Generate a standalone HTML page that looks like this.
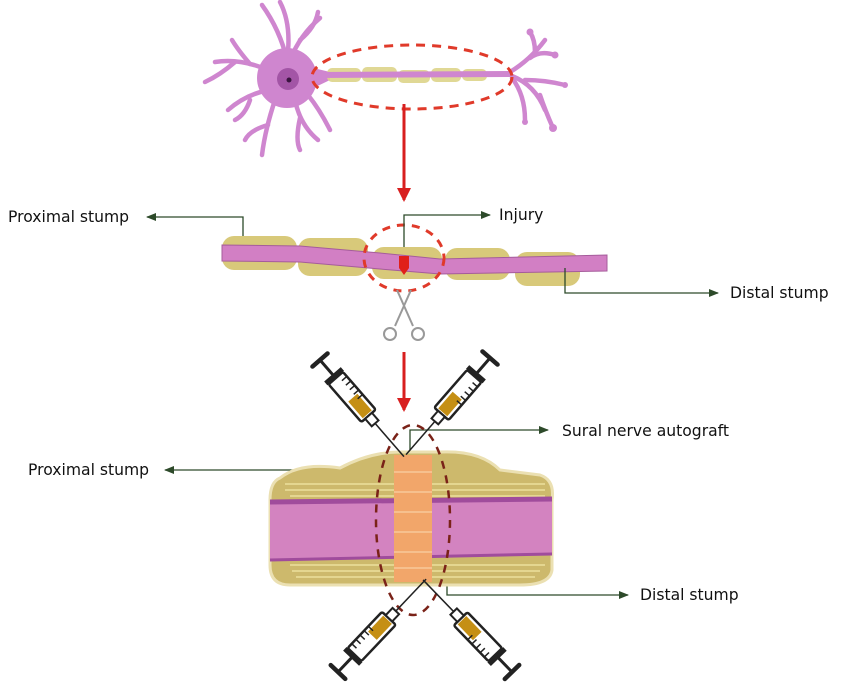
<!DOCTYPE html>
<html><head><meta charset="utf-8"><style>
html,body{margin:0;padding:0;background:#fff;}
svg{display:block;}
text{font-family:"DejaVu Sans","Liberation Sans",sans-serif;font-size:15.6px;fill:#111;}
</style></head><body>
<svg width="865" height="696" viewBox="0 0 865 696" xmlns="http://www.w3.org/2000/svg">
<defs>
<marker id="ga" markerWidth="10" markerHeight="8" refX="9" refY="4" orient="auto" markerUnits="userSpaceOnUse"><path d="M0,0 L10,4 L0,8 Z" fill="#2d4a2a"/></marker>
<marker id="ra" markerWidth="14" markerHeight="14" refX="12" refY="7" orient="auto" markerUnits="userSpaceOnUse"><path d="M0,0 L14,7 L0,14 Z" fill="#d81f1f"/></marker>
<g id="syr">
<line x1="0" y1="-10" x2="0" y2="10" stroke="#222" stroke-width="4.5" stroke-linecap="round"/>
<line x1="0" y1="0" x2="22" y2="0" stroke="#222" stroke-width="3"/>
<rect x="19" y="-11" width="5" height="22" fill="#222"/>
<rect x="24" y="-9.5" width="50" height="19" rx="2" fill="#fff" stroke="#222" stroke-width="2.5"/>
<rect x="50" y="-6" width="22" height="12" fill="#c58f14"/>
<path d="M30,-9 v6 M36,-9 v6 M42,-9 v6 M48,-9 v6 M54,-9 v6" stroke="#222" stroke-width="1.5"/>
<rect x="74" y="-4.5" width="10" height="9" fill="#fff" stroke="#222" stroke-width="2"/>
<line x1="84" y1="0" x2="128" y2="0" stroke="#222" stroke-width="1.5"/>
</g>
</defs>

<!-- Neuron -->
<g stroke="#cf86cf" fill="none" stroke-linecap="round" stroke-width="4.5">
<path d="M287,60 Q280,30 262,5"/><path d="M287,60 Q292,25 280,2"/>
<path d="M290,60 Q300,35 320,18"/><path d="M300,40 Q315,28 318,12"/>
<path d="M268,70 Q240,58 215,62"/><path d="M250,64 Q238,50 232,40"/><path d="M235,62 Q220,75 205,82"/>
<path d="M268,90 Q245,95 228,110"/><path d="M250,100 Q245,115 235,120"/>
<path d="M275,100 Q265,130 262,155"/><path d="M268,125 Q250,130 245,140"/>
<path d="M295,100 Q300,125 318,140"/><path d="M300,118 Q295,140 300,150"/>
<path d="M308,95 Q320,110 330,130"/>
<path d="M510,72 Q530,60 545,40"/><path d="M530,58 Q540,50 555,55"/><path d="M535,52 Q535,40 530,32"/>
<path d="M512,76 Q535,85 545,110"/><path d="M525,80 Q545,80 565,85"/><path d="M540,95 Q545,110 553,128"/><path d="M512,78 Q525,95 525,120"/>
</g>
<g fill="#cf86cf">
<circle cx="555" cy="55" r="3.5"/><circle cx="530" cy="32" r="3.5"/><circle cx="553" cy="128" r="4"/><circle cx="525" cy="122" r="3"/><circle cx="565" cy="85" r="3"/>
<circle cx="287" cy="78" r="30"/>
<path d="M305,66 L330,72 L330,80 L305,92 Z"/>
</g>
<g fill="#ddd48a" opacity="0.9">
<rect x="327" y="68" width="34" height="14" rx="5"/><rect x="362" y="67" width="35" height="15" rx="5"/>
<rect x="398" y="70" width="32" height="13" rx="5"/><rect x="431" y="68" width="30" height="14" rx="5"/><rect x="462" y="69" width="25" height="12" rx="5"/>
</g>
<path d="M318,75 L512,74" stroke="#cf86cf" stroke-width="6"/>
<circle cx="288" cy="79" r="11" fill="#a355a6"/><circle cx="289" cy="80" r="2.5" fill="#3a1540"/>
<ellipse cx="412" cy="77" rx="100" ry="32" fill="none" stroke="#e03a2a" stroke-width="3" stroke-dasharray="9,7"/>

<!-- red arrows -->
<line x1="404" y1="104" x2="404" y2="200" stroke="#d81f1f" stroke-width="3" marker-end="url(#ra)"/>
<line x1="404" y1="352" x2="404" y2="410" stroke="#d81f1f" stroke-width="3" marker-end="url(#ra)"/>

<!-- middle nerve -->
<g fill="#d8c97a">
<rect x="222" y="236" width="75" height="34" rx="12"/><rect x="298" y="238" width="70" height="38" rx="12"/>
<rect x="372" y="247" width="70" height="32" rx="12"/><rect x="445" y="248" width="65" height="32" rx="12"/><rect x="515" y="252" width="65" height="34" rx="12"/>
</g>
<path d="M222,245 L300,246 L380,253 L440,259 L607,255 L607,271 L440,274 L380,269 L300,262 L222,261 Z" fill="#d27fc4" stroke="#a55c9b" stroke-width="1"/>
<path d="M399,256 L409,256 L409,268 L404,275 L399,268 Z" fill="#e0201a"/>
<ellipse cx="404" cy="258" rx="40" ry="33" fill="none" stroke="#e03a2a" stroke-width="3" stroke-dasharray="8,7"/>
<!-- scissors -->
<g stroke="#999" stroke-width="2" fill="none">
<line x1="397" y1="290" x2="413" y2="326"/><line x1="411" y1="290" x2="395" y2="326"/>
<circle cx="390" cy="334" r="6"/><circle cx="418" cy="334" r="6"/>
</g>

<!-- labels -->
<g stroke="#2d4a2a" stroke-width="1.3" fill="none">
<polyline points="243,236 243,217 147,217" marker-end="url(#ga)"/>
<polyline points="404,247 404,215 490,215" marker-end="url(#ga)"/>
<polyline points="565,268 565,293 718,293" marker-end="url(#ga)"/>
<polyline points="298,485 298,470 165,470" marker-end="url(#ga)"/>
<polyline points="410,455 410,430 548,430" marker-end="url(#ga)"/>
<polyline points="447,560 447,595 628,595" marker-end="url(#ga)"/>
</g>
<text x="8" y="222">Proximal stump</text>
<text x="499" y="220">Injury</text>
<text x="730" y="298">Distal stump</text>
<text x="28" y="475">Proximal stump</text>
<text x="562" y="436">Sural nerve autograft</text>
<text x="640" y="600">Distal stump</text>

<!-- bottom nerve -->
<path d="M280,478 Q300,462 340,468 Q370,452 400,452 L440,452 Q480,450 500,470 L540,475 Q555,480 552,500 L552,570 Q550,585 520,585 L290,585 Q270,585 270,565 L270,500 Q270,482 280,478 Z" fill="#cdb96c" stroke="#ebe0b2" stroke-width="3"/>
<g stroke="#ecdf9c" stroke-width="1.6" fill="none">
<path d="M285,484 H545 M285,490 H545 M290,496 H545 M290,565 H545 M292,571 H540 M296,577 H535"/>
</g>
<path d="M270,502 L552,499 L552,554 L270,560 Z" fill="#d383c0"/>
<path d="M270,502 L552,499" stroke="#a04c9c" stroke-width="5"/>
<path d="M270,560 L552,554" stroke="#a04c9c" stroke-width="3"/>
<rect x="394" y="455" width="38" height="127" fill="#f2a66a"/>
<g stroke="#f7c99a" stroke-width="1.5"><path d="M394,472 H432 M394,492 H432 M394,512 H432 M394,532 H432 M394,552 H432 M394,568 H432"/></g>
<ellipse cx="413" cy="520" rx="37" ry="95" fill="none" stroke="#7a2218" stroke-width="2.5" stroke-dasharray="8,7"/>

<!-- syringes -->
<use href="#syr" transform="translate(320,360) rotate(49)"/>
<use href="#syr" transform="translate(490,358) rotate(131)"/>
<use href="#syr" transform="translate(338,672) rotate(-46.5)"/>
<use href="#syr" transform="translate(512,672) rotate(-134)"/>
</svg>
</body></html>
